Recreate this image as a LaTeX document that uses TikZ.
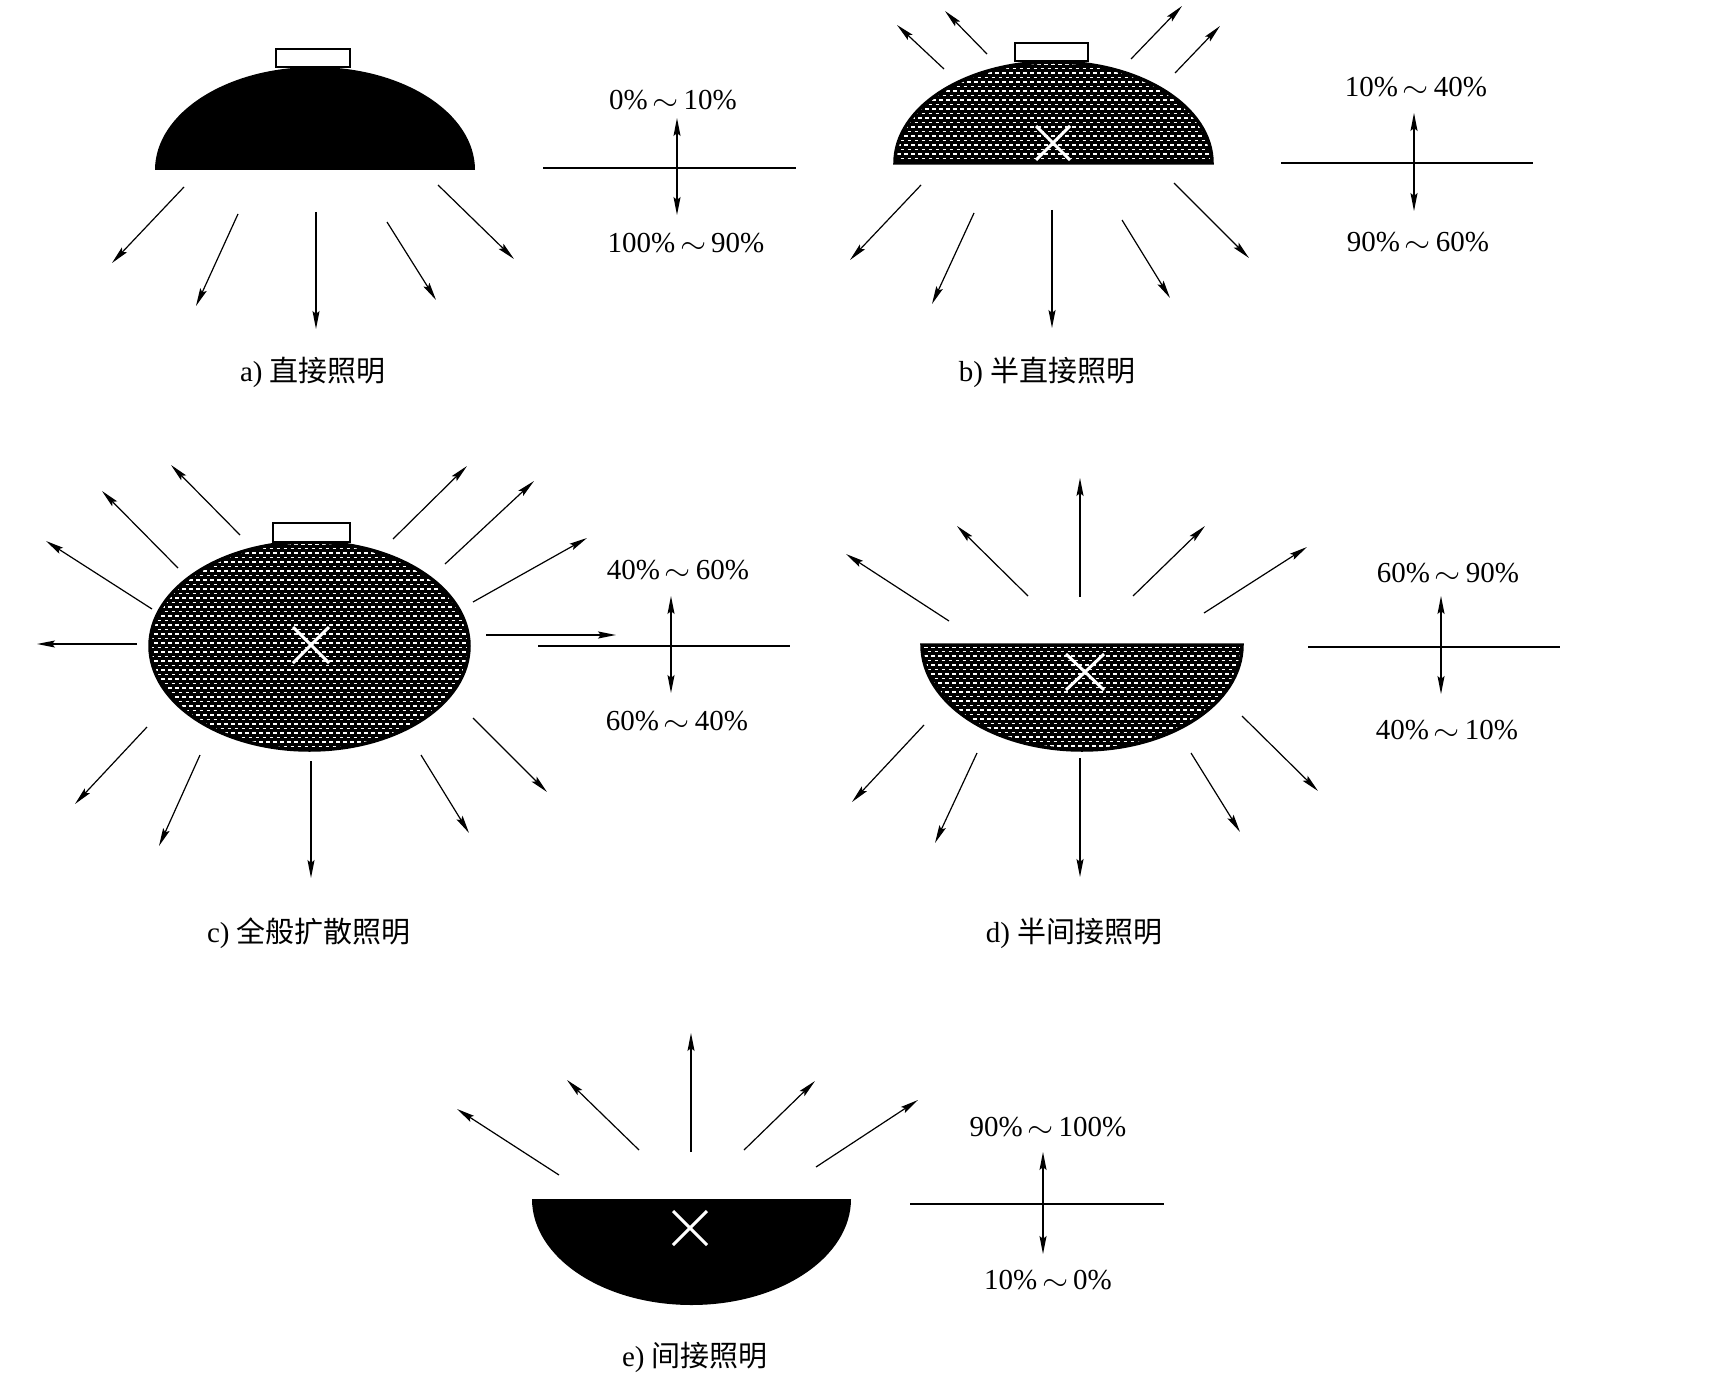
\documentclass[tikz,border=0pt]{standalone}
\usepackage{fontspec}
\setmainfont{Liberation Serif}
\newfontfamily\cjk{Noto Sans CJK SC}
\usetikzlibrary{arrows.meta}
\newcommand\wv{\,\raisebox{-1pt}{\scalebox{1.35}[1.2]{$\sim$}}\,}
\begin{document}
\begin{tikzpicture}[x=1pt,y=-1pt,
  ray/.style={line width=1.2pt,-{Stealth[length=18pt,width=7pt,inset=3pt]}},
  dbl/.style={line width=1.2pt,{Stealth[length=18pt,width=7pt,inset=3pt]}-{Stealth[length=18pt,width=7pt,inset=3pt]}},
  axis/.style={line width=1.4pt},
  mesh/.style={white,line width=1.5pt,dash pattern=on 3.5pt off 3.5pt},
  cross/.style={white,line width=3pt},
  rim/.style={line width=3.5pt},
  lampcap/.style={line width=2.5pt,fill=white},
  pct/.style={anchor=base,inner sep=0pt,font=\fontsize{29}{32}\selectfont},
  lbl/.style={anchor=base,inner sep=0pt,font=\fontsize{29}{32}\selectfont}]
\useasboundingbox (0,0) rectangle (1710,1388);
\fill[white] (0,0) rectangle (1710,1388);

% ---------------- a) ----------------
\fill (155,170) arc[start angle=180,end angle=0,x radius=160pt,y radius=103pt] -- cycle;
\draw[lampcap] (276,49) rectangle (350,67);
\draw[ray] (184,187) -- (112,263);
\draw[ray] (238,214) -- (196,306);
\draw[ray] (316,212) -- (316,329);
\draw[ray] (387,222) -- (436,300);
\draw[ray] (438,185) -- (514,259);
\draw[axis] (543,168) -- (796,168);
\draw[dbl] (677,118) -- (677,215);
\node[pct] (a1) at (673,109.5) {0\%\wv10\%};
\node[pct] (a2) at (686,252.5) {100\%\wv90\%};
\node[lbl] (la) at (313,381) {a) {\cjk 直接照明}};

% ---------------- b) ----------------
\begin{scope}
\clip (895,163) arc[start angle=180,end angle=0,x radius=158.5pt,y radius=101pt] -- cycle;
\fill (880,40) rectangle (1230,170);
\foreach \yy in {64,73,...,163} \draw[mesh] (890,\yy) -- (1220,\yy);
\foreach \yy in {68.5,77.5,...,163} \draw[mesh,dash phase=3.5pt] (890,\yy) -- (1220,\yy);
\end{scope}
\draw[rim] (895,163) arc[start angle=180,end angle=0,x radius=158.5pt,y radius=101pt] -- cycle;
\draw[lampcap] (1015,43) rectangle (1088,61);
\draw[cross] (1036,126) -- (1070,160) (1036,160) -- (1070,126);
\draw[ray] (944,69) -- (897,25);
\draw[ray] (987,54) -- (945,11);
\draw[ray] (1131,59) -- (1182,6);
\draw[ray] (1175,73) -- (1220,26);
\draw[ray] (921,185) -- (850,260);
\draw[ray] (974,213) -- (932,304);
\draw[ray] (1052,210) -- (1052,328);
\draw[ray] (1122,220) -- (1170,298);
\draw[ray] (1174,183) -- (1249,258);
\draw[axis] (1281,163) -- (1533,163);
\draw[dbl] (1414,113) -- (1414,211);
\node[pct] (b1) at (1416,96.5) {10\%\wv40\%};
\node[pct] (b2) at (1418,251.5) {90\%\wv60\%};
\node[lbl] (lb) at (1047,381) {b) {\cjk 半直接照明}};

% ---------------- c) ----------------
\begin{scope}
\clip (309.5,646) ellipse[x radius=159.5pt,y radius=104pt];
\fill (140,530) rectangle (480,760);
\foreach \yy in {544,553,...,752} \draw[mesh] (140,\yy) -- (480,\yy);
\foreach \yy in {548.5,557.5,...,752} \draw[mesh,dash phase=3.5pt] (140,\yy) -- (480,\yy);
\end{scope}
\draw[rim] (309.5,646) ellipse[x radius=159.5pt,y radius=104pt];
\draw[lampcap] (273,523) rectangle (350,542);
\draw[cross] (293,627) -- (329,663) (293,663) -- (329,627);
\draw[ray] (240,535) -- (171,465);
\draw[ray] (178,568) -- (102,491);
\draw[ray] (152,609) -- (46,541);
\draw[ray] (137,644) -- (37,644);
\draw[ray] (393,539) -- (467,466);
\draw[ray] (445,564) -- (534,481);
\draw[ray] (473,602) -- (587,538);
\draw[ray,line width=1.6pt] (486,635) -- (616,635);
\draw[ray] (147,727) -- (75,804);
\draw[ray] (200,755) -- (159,846);
\draw[ray] (311,761) -- (311,878);
\draw[ray] (421,755) -- (469,833);
\draw[ray] (473,718) -- (547,792);
\draw[axis] (538,646) -- (790,646);
\draw[dbl] (671,596) -- (671,693);
\node[pct] (c1) at (678,579.5) {40\%\wv60\%};
\node[pct] (c2) at (677,730.5) {60\%\wv40\%};
\node[lbl] (lc) at (309,942) {c) {\cjk 全般扩散照明}};

% ---------------- d) ----------------
\begin{scope}
\clip (922,645) arc[start angle=180,end angle=360,x radius=160pt,y radius=105pt] -- cycle;
\fill (910,640) rectangle (1250,760);
\foreach \yy in {647,656,...,752} \draw[mesh] (910,\yy) -- (1250,\yy);
\foreach \yy in {651.5,660.5,...,752} \draw[mesh,dash phase=3.5pt] (910,\yy) -- (1250,\yy);
\end{scope}
\draw[rim] (922,645) arc[start angle=180,end angle=360,x radius=160pt,y radius=105pt] -- cycle;
\draw[cross] (1066,654) -- (1104,690) (1066,690) -- (1104,654);
\draw[ray] (1080,597) -- (1080,478);
\draw[ray] (1028,596) -- (957,526);
\draw[ray] (949,621) -- (846,554);
\draw[ray] (1133,596) -- (1205,526);
\draw[ray] (1204,613) -- (1307,547);
\draw[ray] (1080,758) -- (1080,877);
\draw[ray] (924,725) -- (852,802);
\draw[ray] (977,753) -- (935,843);
\draw[ray] (1242,716) -- (1318,791);
\draw[ray] (1191,753) -- (1240,832);
\draw[axis] (1308,647) -- (1560,647);
\draw[dbl] (1441,596) -- (1441,694);
\node[pct] (d1) at (1448,582.5) {60\%\wv90\%};
\node[pct] (d2) at (1447,739.5) {40\%\wv10\%};
\node[lbl] (ld) at (1074,942) {d) {\cjk 半间接照明}};

% ---------------- e) ----------------
\fill (532,1199) arc[start angle=180,end angle=360,x radius=159.5pt,y radius=106pt] -- cycle;
\draw[cross] (673,1211) -- (707,1245) (673,1245) -- (707,1211);
\draw[ray] (691,1152) -- (691,1033);
\draw[ray] (639,1150) -- (567,1080);
\draw[ray] (559,1175) -- (457,1109);
\draw[ray] (744,1150) -- (815,1081);
\draw[ray] (816,1167) -- (918,1100);
\draw[axis] (910,1204) -- (1164,1204);
\draw[dbl] (1043,1152) -- (1043,1254);
\node[pct] (e1) at (1048,1136.5) {90\%\wv100\%};
\node[pct] (e2) at (1048,1289.5) {10\%\wv0\%};
\node[lbl] (le) at (695,1366) {e) {\cjk 间接照明}};
\end{tikzpicture}
\end{document}
